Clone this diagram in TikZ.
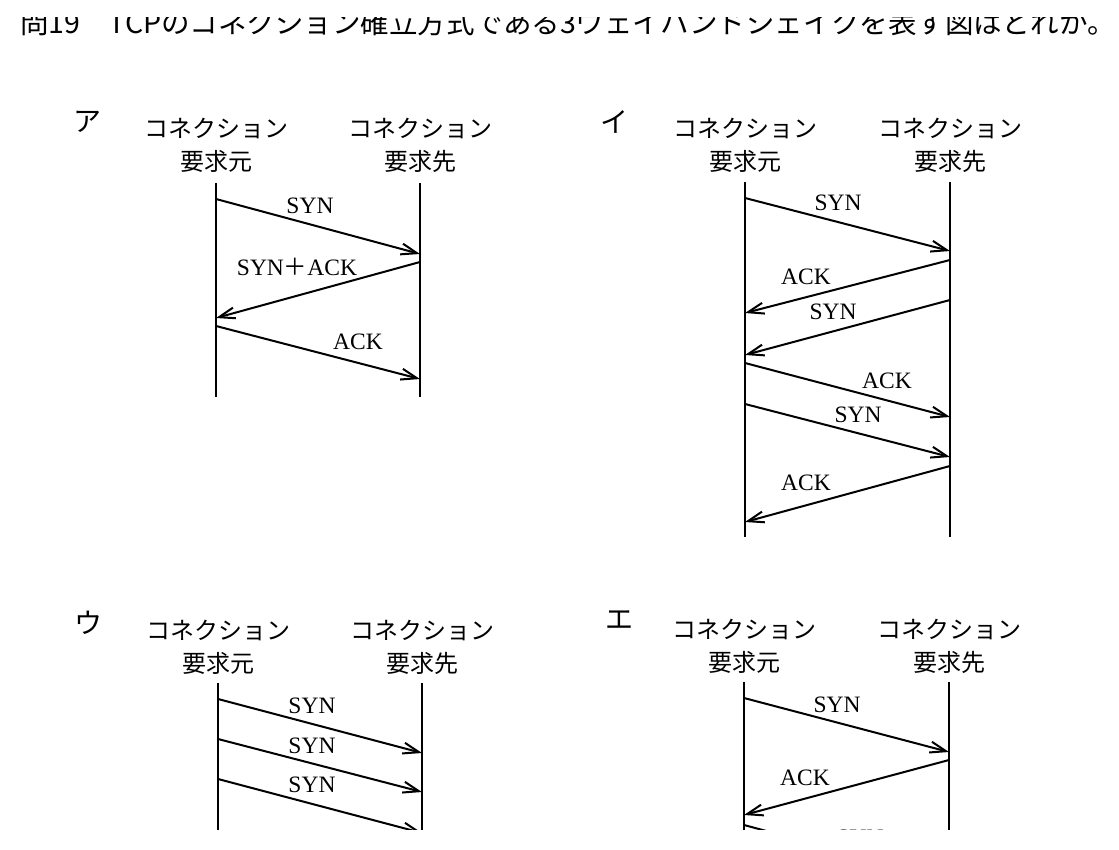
\documentclass[tikz,border=0pt]{standalone}
\usepackage{fontspec}
\setmainfont{Liberation Serif}
\newfontfamily\cjk{Noto Sans CJK JP}
\usetikzlibrary{arrows.meta}

\begin{document}
\begin{tikzpicture}[x=1pt,y=-1pt,
	life/.style={line width=2pt},
	msg/.style={line width=2pt,-{Straight Barb[length=16pt,width=11pt]}},
	head/.style={font=\cjk\fontsize{24}{33}\selectfont,align=center,inner sep=0pt},
	label/.style={font=\fontsize{23.5}{23.5}\selectfont,inner sep=0pt},
	choice/.style={font=\cjk\fontsize{28}{28}\selectfont,inner sep=0pt}]
		%%%%% START %%%%%
		\path[fill=white] (0,0) rectangle (1119,850);
		\clip (0,18) rectangle (1119,829);
		
		\node[anchor=base west,inner sep=0pt,font=\cjk\fontsize{28.5}{30}\selectfont] (title) at (20,34) {問19　TCPのコネクション確立方式である3ウェイハンドシェイクを表す図はどれか。};
		
		% ア
		\coordinate (aL) at (216,183);
		\coordinate (aR) at (420,183);
		\node[choice] (a) at (87,122) {ア};
		\node[head] (a-src) at (aL |- 0,145) {コネクション\\要求元};
		\node[head] (a-dst) at (aR |- 0,145) {コネクション\\要求先};
		\draw[life] (aL) -- (aL |- 0,397);
		\draw[life] (aR) -- (aR |- 0,397);
		\draw[msg] (aL |- 0,199) -- (aR |- 0,254);
		\draw[msg] (aR |- 0,262) -- (aL |- 0,318);
		\draw[msg] (aL |- 0,326) -- (aR |- 0,379);
		\node[label] (a-syn) at (310,206) {SYN};
		\node[label] (a-synack) at (297,267) {SYN{\cjk ＋}ACK};
		\node[label] (a-ack) at (358,342) {ACK};
		
		% イ
		\coordinate (bL) at (745,182);
		\coordinate (bR) at (950,182);
		\node[choice] (b) at (614,122) {イ};
		\node[head] (b-src) at (bL |- 0,145) {コネクション\\要求元};
		\node[head] (b-dst) at (bR |- 0,145) {コネクション\\要求先};
		\draw[life] (bL) -- (bL |- 0,537);
		\draw[life] (bR) -- (bR |- 0,537);
		\draw[msg] (bL |- 0,198) -- (bR |- 0,251);
		\draw[msg] (bR |- 0,260) -- (bL |- 0,313);
		\draw[msg] (bR |- 0,300) -- (bL |- 0,355);
		\draw[msg] (bL |- 0,363) -- (bR |- 0,417);
		\draw[msg] (bL |- 0,404) -- (bR |- 0,457);
		\draw[msg] (bR |- 0,466) -- (bL |- 0,522);
		\node[label] (b-syn1) at (838,203) {SYN};
		\node[label] (b-ack1) at (806,277) {ACK};
		\node[label] (b-syn2) at (833,312) {SYN};
		\node[label] (b-ack2) at (887,381) {ACK};
		\node[label] (b-syn3) at (858,415) {SYN};
		\node[label] (b-ack3) at (806,483) {ACK};
		
		% ウ
		\coordinate (cL) at (218,683);
		\coordinate (cR) at (422,683);
		\node[choice] (c) at (88,623) {ウ};
		\node[head] (c-src) at (cL |- 0,647) {コネクション\\要求元};
		\node[head] (c-dst) at (cR |- 0,647) {コネクション\\要求先};
		\draw[life] (cL) -- (cL |- 0,850);
		\draw[life] (cR) -- (cR |- 0,850);
		\draw[msg] (cL |- 0,699) -- (cR |- 0,753);
		\draw[msg] (cL |- 0,739) -- (cR |- 0,792);
		\draw[msg] (cL |- 0,779) -- (cR |- 0,833);
		\node[label] (c-syn1) at (312,706) {SYN};
		\node[label] (c-syn2) at (312,746) {SYN};
		\node[label] (c-syn3) at (312,785) {SYN};
		
		% エ
		\coordinate (dL) at (744,682);
		\coordinate (dR) at (949,682);
		\node[choice] (d) at (619,620) {エ};
		\node[head] (d-src) at (dL |- 0,646) {コネクション\\要求元};
		\node[head] (d-dst) at (dR |- 0,646) {コネクション\\要求先};
		\draw[life] (dL) -- (dL |- 0,850);
		\draw[life] (dR) -- (dR |- 0,850);
		\draw[msg] (dL |- 0,698) -- (dR |- 0,752);
		\draw[msg] (dR |- 0,760) -- (dL |- 0,815);
		\draw[msg] (dL |- 0,825) -- (dR |- 0,880);
		\node[label] (d-syn1) at (837,705) {SYN};
		\node[label] (d-ack1) at (805,778) {ACK};
		\node[label] (d-syn2) at (860,838) {SYN};
		%%%%% END %%%%%
	\end{tikzpicture}
\end{document}
